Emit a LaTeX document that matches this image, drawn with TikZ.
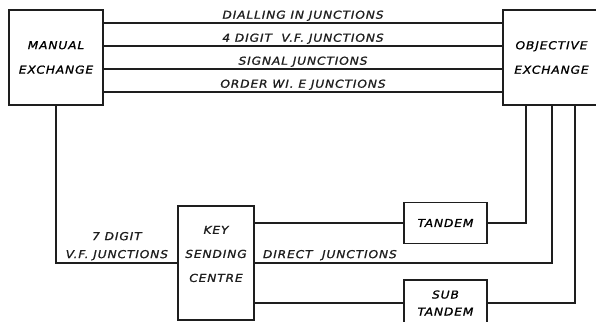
\documentclass[tikz,border=0pt]{standalone}
\usepackage{fontspec}
\setmainfont{DejaVu Sans}[LetterSpace=8, FakeStretch=1.12, FakeBold=1.2]
\usetikzlibrary{positioning}
\definecolor{jInk}{HTML}{1E1E1E}

\tikzset{
  jbox/.style={draw=jInk, line width=1.6pt, rectangle, inner sep=0pt, align=center,
    font=\fontsize{10.9pt}{24.5pt}\selectfont\itshape},
  jline/.style={draw=jInk, line width=1.6pt},
  jlabel/.style={inner sep=0pt, text=jInk, font=\fontsize{10.9pt}{18pt}\selectfont\itshape}
}

\begin{document}
\begin{tikzpicture}[x=1pt, y=-1pt]
  \useasboundingbox (0,0) rectangle (596,321);
  % exchanges
  \node[jbox, minimum width=94pt, minimum height=95pt] (manual) at (56,57.5) {MANUAL\\EXCHANGE};
  \node[jbox, minimum width=97pt, minimum height=95pt] (objective) at (551.5,57.5) {OBJECTIVE\\EXCHANGE};
  % key sending centre and tandems
  \node[jbox, minimum width=76pt, minimum height=114pt] (ksc) at (216,263) {};
  \node[jlabel, align=center, font=\fontsize{10.9pt}{24pt}\selectfont\itshape] (ksctext) at (216,254) {KEY\\SENDING\\CENTRE};
  \node[jbox, minimum width=83pt, minimum height=41pt] (tandem) at (445.5,223) {TANDEM};
  \node[jbox, minimum width=83pt, minimum height=46pt, font=\fontsize{10.9pt}{17pt}\selectfont\itshape]
    (subtandem) at (445.5,303) {SUB\\TANDEM};

  % junctions between the exchanges
  \foreach \dy/\txt in {
    14/{DIALLING IN JUNCTIONS},
    37/{4 DIGIT \ V.F. JUNCTIONS},
    60/{SIGNAL JUNCTIONS},
    83/{ORDER WI. E JUNCTIONS}}{
    \draw[jline] ([yshift=-\dy pt]manual.north east) -- ([yshift=-\dy pt]objective.north west)
      node[jlabel, midway, above=1.5pt] {\txt};
  }

  % key sending routes
  \draw[jline] (manual.south) |- (ksc.west);
  \node[jlabel, align=center, anchor=south east] (vfjunctions) at ([xshift=-9pt, yshift=2.5pt]ksc.west) {7 DIGIT\\V.F. JUNCTIONS};
  \draw[jline] (ksc.east |- tandem.west) -- (tandem.west);
  \draw[jline] (tandem.east) -| ([xshift=24pt]objective.south west);
  \draw[jline] (ksc.east) -| ([xshift=50pt]objective.south west);
  \node[jlabel, anchor=south west] (direct) at ([xshift=8pt, yshift=2.5pt]ksc.east) {DIRECT \ JUNCTIONS};
  \draw[jline] (ksc.east |- subtandem.west) -- (subtandem.west);
  \draw[jline] (subtandem.east) -| ([xshift=73pt]objective.south west);
\end{tikzpicture}
\end{document}
